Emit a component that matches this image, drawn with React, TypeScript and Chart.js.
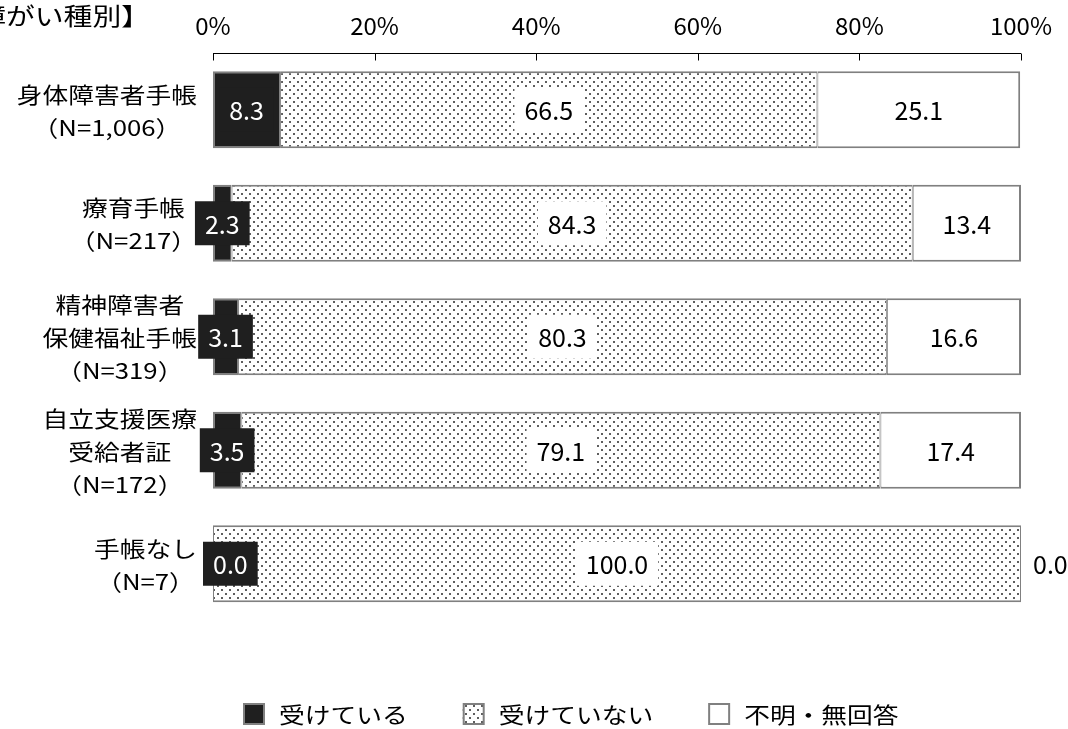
import React, { useEffect, useRef } from "react";
import { Chart, registerables } from "chart.js";

Chart.register(...registerables);

const title = "【障がい種別】";
const categories: string[][] = [
  ["身体障害者手帳", "（N=1,006）"],
  ["療育手帳", "（N=217）"],
  ["精神障害者", "保健福祉手帳", "（N=319）"],
  ["自立支援医療", "受給者証", "（N=172）"],
  ["手帳なし", "（N=7）"],
];
const seriesNames = ["受けている", "受けていない", "不明・無回答"];
const receiving = [8.3, 2.3, 3.1, 3.5, 0.0];
const notReceiving = [66.5, 84.3, 80.3, 79.1, 100.0];
const unknown = [25.1, 13.4, 16.6, 17.4, 0.0];
const xTicks = [0, 20, 40, 60, 80, 100];

const NUM_FONT = "'Noto Sans CJK JP', sans-serif";
const JP_FONT = "'Noto Sans CJK JP', sans-serif";
const JP_SCALE = 1.17;
const BORDER = "#808080";
const DARK = "#1f1f1f";

function makePattern(): CanvasPattern | string {
  const c = document.createElement("canvas");
  c.width = 8;
  c.height = 8;
  const g = c.getContext("2d");
  if (!g) return "#e0e0e0";
  g.fillStyle = "#ffffff";
  g.fillRect(0, 0, 8, 8);
  g.fillStyle = "#5e5e5e";
  g.fillRect(1, 1, 2, 2);
  g.fillRect(5, 5, 2, 2);
  return g.createPattern(c, "repeat") || "#e0e0e0";
}

function scaledText(
  ctx: CanvasRenderingContext2D,
  text: string,
  x: number,
  y: number,
  align: "left" | "center" | "right",
  sx: number = JP_SCALE
) {
  const w = ctx.measureText(text).width * sx;
  let left = x;
  if (align === "center") left = x - w / 2;
  else if (align === "right") left = x - w;
  ctx.save();
  ctx.translate(left, y);
  ctx.scale(sx, 1);
  ctx.textAlign = "left";
  ctx.fillText(text, 0, 0);
  ctx.restore();
  return w;
}

export default function App() {
  const ref = useRef<HTMLCanvasElement | null>(null);

  useEffect(() => {
    document.body.style.margin = "0";
    const canvas = ref.current;
    if (!canvas) return;
    const pattern = makePattern();
    const fills = [DARK, pattern, "#ffffff"];

    const overlay = {
      id: "overlay",
      afterDatasetsDraw(chart: any) {
        const ctx: CanvasRenderingContext2D = chart.ctx;
        ctx.save();
        ctx.font = `25px ${NUM_FONT}`;
        ctx.textBaseline = "middle";
        const padX = 10;
        const boxH = 44;
        chart.data.datasets.forEach((ds: any, di: number) => {
          const meta = chart.getDatasetMeta(di);
          meta.data.forEach((el: any, j: number) => {
            const v = ds.data[j] as number;
            const txt = v.toFixed(1);
            const tw = ctx.measureText(txt).width;
            let cx = (el.x + el.base) / 2;
            if (v === 0) {
              if (di === 0) cx = Math.min(el.x, el.base) + tw / 2;
              else cx = Math.max(el.x, el.base) + 12 + tw / 2;
            }
            const cy = el.y;
            if (di === 0) {
              ctx.fillStyle = DARK;
              ctx.fillRect(cx - tw / 2 - padX, cy - boxH / 2, tw + 2 * padX, boxH);
              ctx.fillStyle = "#ffffff";
            } else if (di === 1) {
              ctx.fillStyle = "#ffffff";
              ctx.fillRect(cx - tw / 2 - padX, cy - boxH / 2, tw + 2 * padX, boxH);
              ctx.fillStyle = "#000000";
            } else {
              ctx.fillStyle = "#000000";
            }
            ctx.textAlign = "center";
            ctx.fillText(txt, cx, cy + 1);
          });
        });
        ctx.restore();
      },
      afterDraw(chart: any) {
        const ctx: CanvasRenderingContext2D = chart.ctx;
        const xs = chart.scales.x;
        const ys = chart.scales.y;
        const area = chart.chartArea;
        ctx.save();
        // top axis line + inside ticks
        ctx.strokeStyle = "#000000";
        ctx.lineWidth = 1;
        ctx.beginPath();
        const ay = Math.round(area.top) + 0.5;
        ctx.moveTo(xs.getPixelForValue(0), ay);
        ctx.lineTo(xs.getPixelForValue(100), ay);
        xTicks.forEach((t) => {
          const px = Math.round(xs.getPixelForValue(t)) + 0.5;
          ctx.moveTo(px, ay);
          ctx.lineTo(px, ay + 7);
        });
        ctx.stroke();

        // category labels
        ctx.fillStyle = "#000000";
        ctx.font = `22px ${JP_FONT}`;
        ctx.textBaseline = "middle";
        const lh = 33;
        categories.forEach((lines, i) => {
          const y = ys.getPixelForTick(i);
          const widest = Math.max(...lines.map((l) => ctx.measureText(l).width * JP_SCALE));
          const cx = 197 - widest / 2;
          const y0 = y - ((lines.length - 1) * lh) / 2 + 1;
          lines.forEach((l, k) => scaledText(ctx, l, cx, y0 + k * lh, "center"));
        });

        // title
        ctx.font = `24px ${JP_FONT}`;
        scaledText(ctx, title, 150, 16, "right", 1.2);

        // legend
        ctx.font = `22px ${JP_FONT}`;
        let lx = 243;
        const ly = 714;
        const box = 22;
        seriesNames.forEach((name, i) => {
          ctx.fillStyle = fills[i] as any;
          ctx.fillRect(lx, ly - box / 2, box, box);
          ctx.strokeStyle = BORDER;
          ctx.lineWidth = 2;
          ctx.strokeRect(lx + 1, ly - box / 2 + 1, box - 2, box - 2);
          ctx.fillStyle = "#000000";
          const w = scaledText(ctx, name, lx + box + 14, ly + 1, "left");
          lx += box + 14 + w + 55;
        });
        ctx.restore();
      },
    };

    const bw = [
      { top: 2, bottom: 2, left: 2, right: 1 },
      { top: 2, bottom: 2, left: 1, right: 1 },
      { top: 2, bottom: 2, left: 1, right: 2 },
    ];

    const chart = new Chart(canvas, {
      type: "bar",
      data: {
        labels: categories.map((c) => c.join(" ")),
        datasets: [receiving, notReceiving, unknown].map((d, i) => ({
          label: seriesNames[i],
          data: d,
          backgroundColor: fills[i] as any,
          borderColor: BORDER,
          borderWidth: bw[i],
          borderSkipped: false,
          inflateAmount: 0,
          barPercentage: 0.68,
          categoryPercentage: 1,
        })),
      },
      options: {
        indexAxis: "y",
        responsive: false,
        animation: false,
        layout: { padding: { left: 0, right: 47, top: 0, bottom: 108.5 } },
        plugins: {
          legend: { display: false },
          tooltip: { enabled: false },
          title: { display: false },
        },
        scales: {
          x: {
            type: "linear",
            position: "top",
            stacked: true,
            min: 0,
            max: 100,
            afterBuildTicks: (s: any) => {
              s.ticks = xTicks.map((v) => ({ value: v }));
            },
            afterFit: (s: any) => {
              s.height = 53;
            },
            grid: { display: false, drawTicks: false },
            border: { display: false },
            ticks: {
              padding: 13,
              color: "#000000",
              maxRotation: 0,
              font: { family: NUM_FONT, size: 24 },
              callback: (v: any) => `${v}%`,
            },
          },
          y: {
            type: "category",
            stacked: true,
            position: "left",
            afterFit: (s: any) => {
              s.width = 213;
            },
            grid: { display: false, drawTicks: false },
            border: { display: false },
            ticks: { display: false },
          },
        },
      },
      plugins: [overlay],
    } as any);

    return () => chart.destroy();
  }, []);

  return (
    <div style={{ position: "absolute", left: 0, top: 0, width: 1068, height: 729 }}>
      <canvas ref={ref} width={1068} height={729} style={{ display: "block" }} />
    </div>
  );
}
